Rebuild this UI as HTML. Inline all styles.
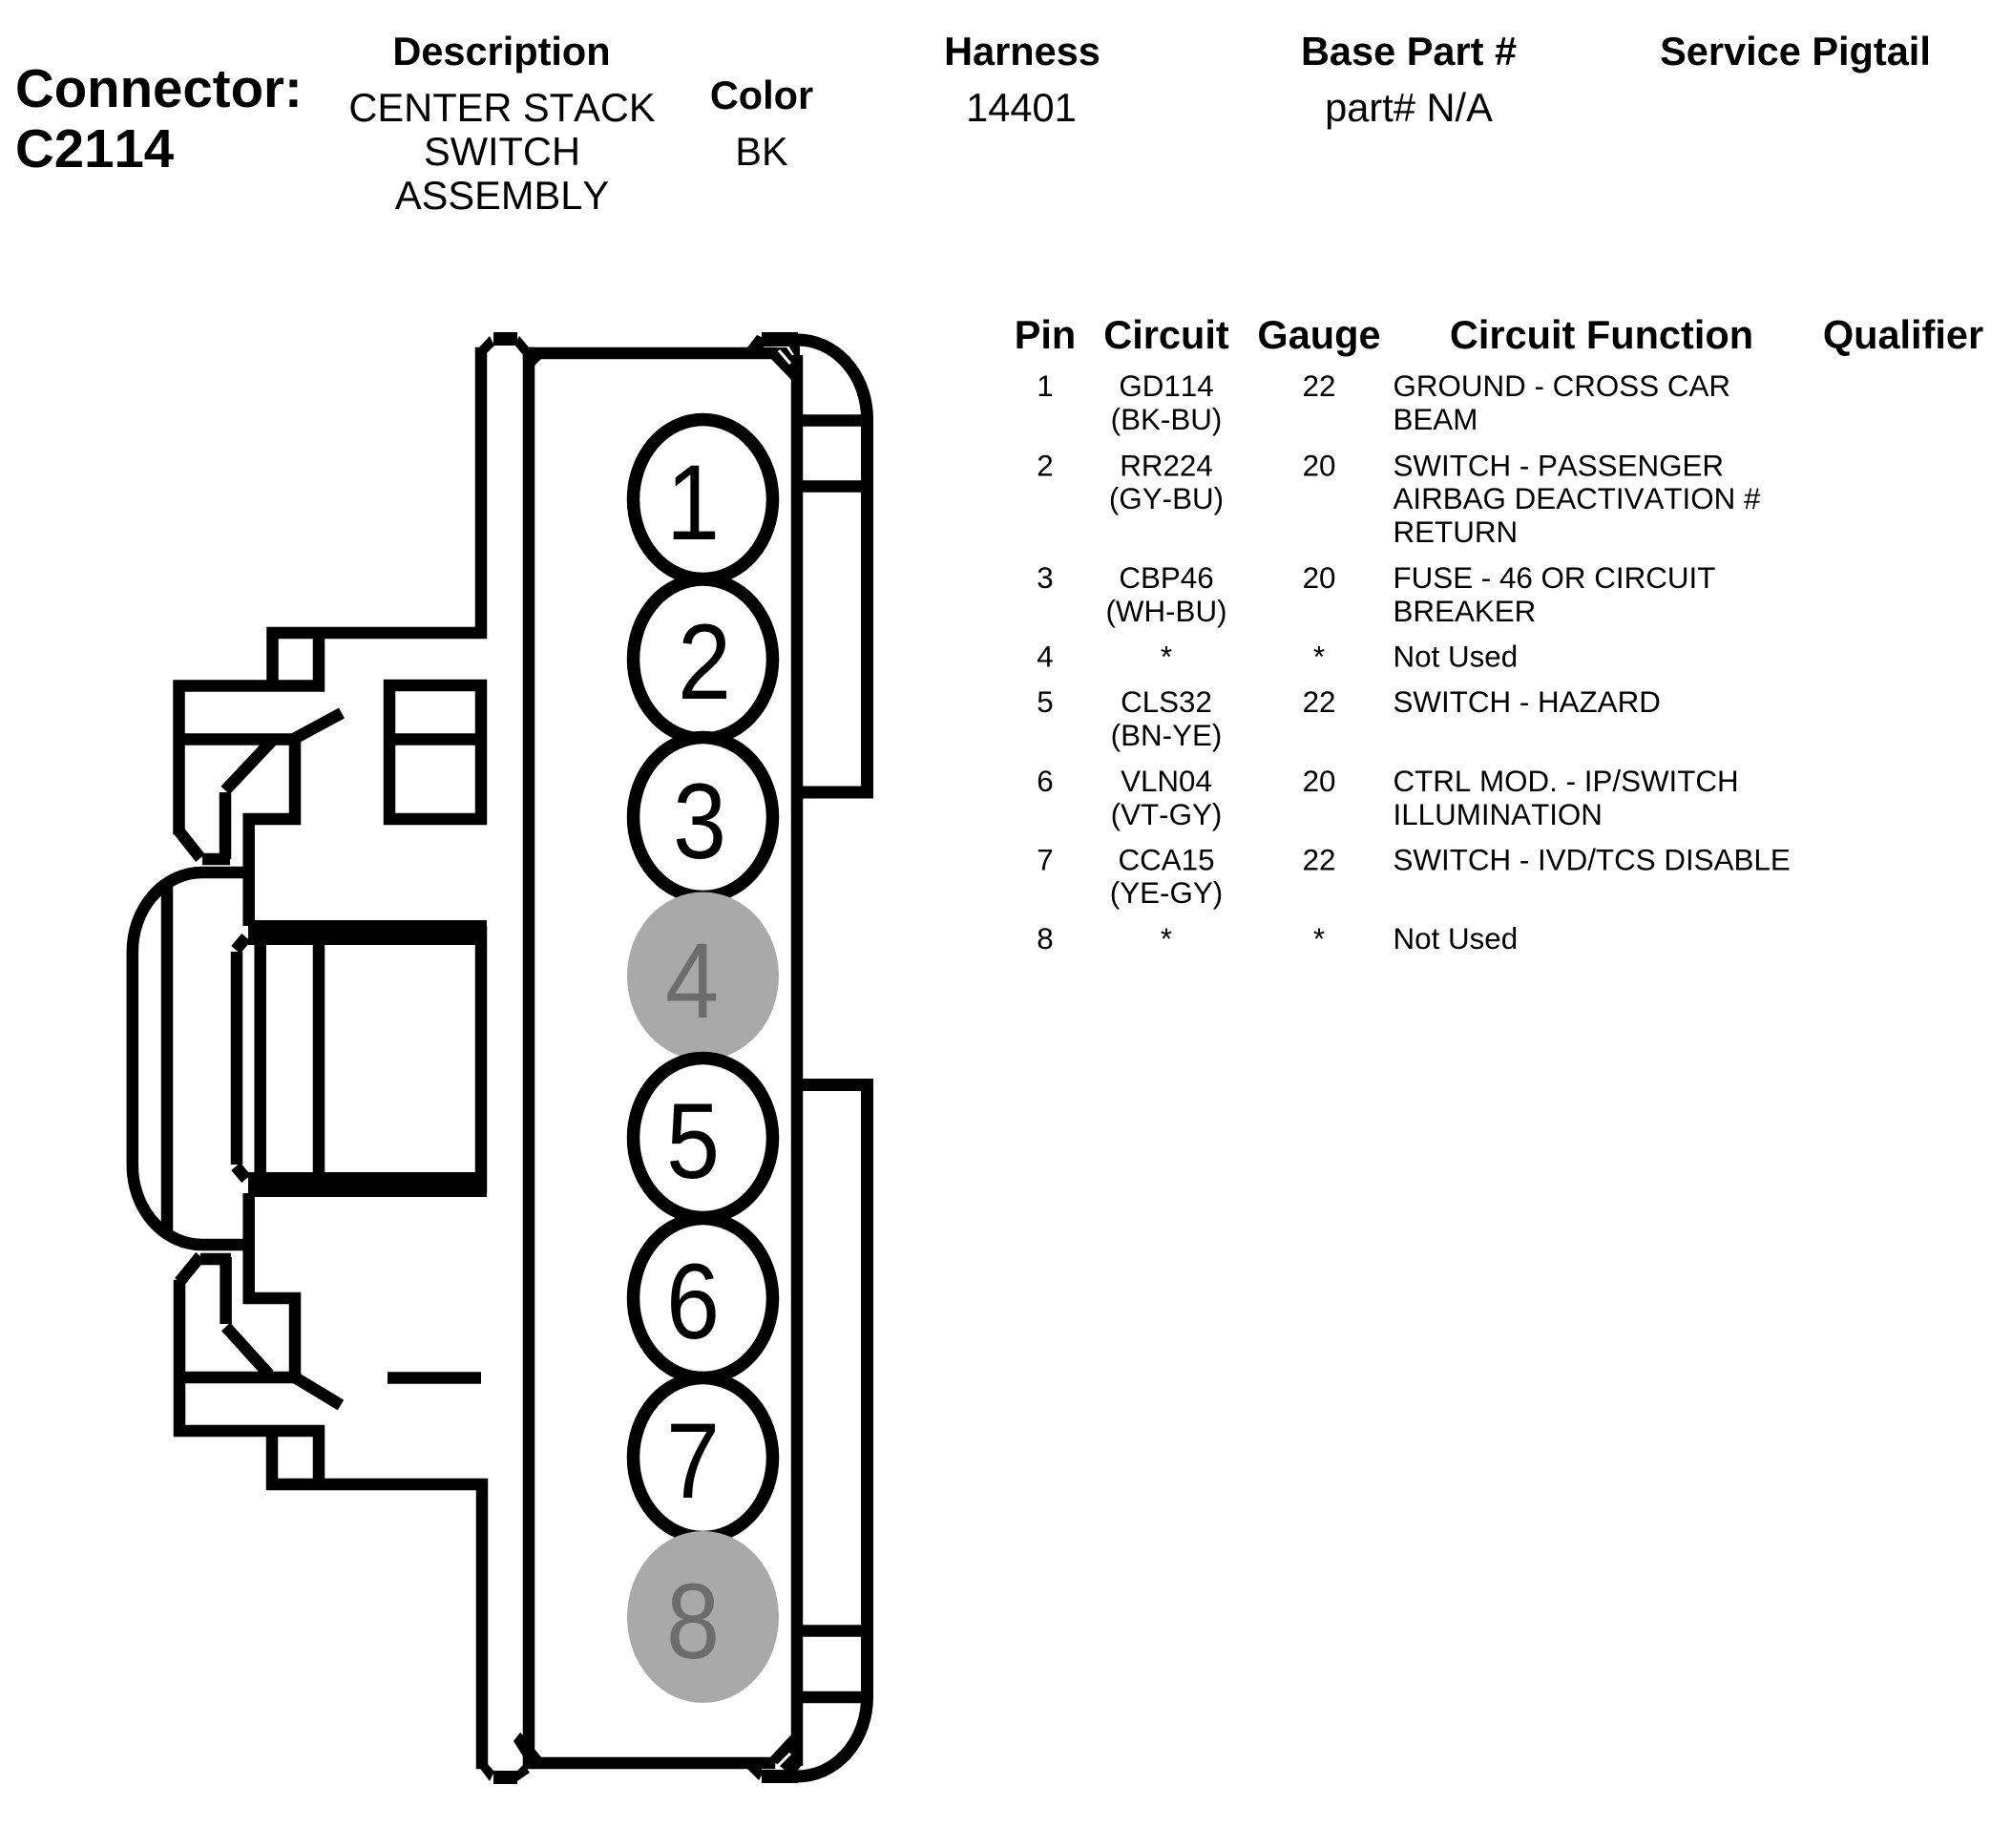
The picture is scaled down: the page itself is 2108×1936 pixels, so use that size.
<!DOCTYPE html>
<html><head><meta charset="utf-8"><style>
html,body{margin:0;padding:0;background:#fff}
svg{display:block}
text{font-family:"Liberation Sans",sans-serif;fill:#000;font-kerning:none}
.b{font-weight:bold;font-size:41.5px;text-anchor:middle}
.r{font-size:41.6px;text-anchor:middle}
.t{font-size:31.35px}
.c{font-size:31.35px;text-anchor:middle}
.d{font-size:112px;text-anchor:middle}
.l{fill:none;stroke:#000;stroke-width:12.5;stroke-linejoin:miter;stroke-linecap:square}
.n{fill:none;stroke:#000;stroke-width:12.5;stroke-linecap:butt}
</style></head><body>
<svg xmlns="http://www.w3.org/2000/svg" width="2108" height="1936" viewBox="0 0 2108 1936">
<rect width="2108" height="1936" fill="#fff"/>
<text x="16" y="112" font-weight="bold" font-size="56.4">Connector:</text>
<text x="16" y="175" font-weight="bold" font-size="56.4">C2114</text>
<text class="b" x="525.5" y="68">Description</text>
<text class="r" x="526" y="127">CENTER STACK</text>
<text class="r" x="526" y="173">SWITCH</text>
<text class="r" x="526" y="219">ASSEMBLY</text>
<text class="b" x="798" y="114">Color</text>
<text class="r" x="798" y="173">BK</text>
<text class="b" x="1071" y="68">Harness</text>
<text class="r" x="1070" y="127">14401</text>
<text class="b" x="1476" y="68">Base Part #</text>
<text class="r" x="1476" y="127">part# N/A</text>
<text class="b" x="1881" y="68">Service Pigtail</text>

<text class="b" x="1095" y="365">Pin</text>
<text class="b" x="1222" y="365">Circuit</text>
<text class="b" x="1382" y="365">Gauge</text>
<text class="b" x="1678" y="365">Circuit Function</text>
<text class="b" x="1994" y="365">Qualifier</text>

<text class="c" x="1095" y="415">1</text><text class="c" x="1222" y="415">GD114</text><text class="c" x="1382" y="415">22</text><text class="t" x="1459.5" y="415">GROUND - CROSS CAR</text>
<text class="c" x="1222" y="450">(BK-BU)</text><text class="t" x="1459.5" y="450">BEAM</text>
<text class="c" x="1095" y="498.5">2</text><text class="c" x="1222" y="498.5">RR224</text><text class="c" x="1382" y="498.5">20</text><text class="t" x="1459.5" y="498.5">SWITCH - PASSENGER</text>
<text class="c" x="1222" y="533">(GY-BU)</text><text class="t" x="1459.5" y="533">AIRBAG DEACTIVATION #</text>
<text class="t" x="1459.5" y="568">RETURN</text>
<text class="c" x="1095" y="616">3</text><text class="c" x="1222" y="616">CBP46</text><text class="c" x="1382" y="616">20</text><text class="t" x="1459.5" y="616">FUSE - 46 OR CIRCUIT</text>
<text class="c" x="1222" y="651">(WH-BU)</text><text class="t" x="1459.5" y="651">BREAKER</text>
<text class="c" x="1095" y="698.5">4</text><text class="c" x="1222" y="698.5">*</text><text class="c" x="1382" y="698.5">*</text><text class="t" x="1459.5" y="698.5">Not Used</text>
<text class="c" x="1095" y="746">5</text><text class="c" x="1222" y="746">CLS32</text><text class="c" x="1382" y="746">22</text><text class="t" x="1459.5" y="746">SWITCH - HAZARD</text>
<text class="c" x="1222" y="781">(BN-YE)</text>
<text class="c" x="1095" y="829">6</text><text class="c" x="1222" y="829">VLN04</text><text class="c" x="1382" y="829">20</text><text class="t" x="1459.5" y="829">CTRL MOD. - IP/SWITCH</text>
<text class="c" x="1222" y="864">(VT-GY)</text><text class="t" x="1459.5" y="864">ILLUMINATION</text>
<text class="c" x="1095" y="911.5">7</text><text class="c" x="1222" y="911.5">CCA15</text><text class="c" x="1382" y="911.5">22</text><text class="t" x="1459.5" y="911.5">SWITCH - IVD/TCS DISABLE</text>
<text class="c" x="1222" y="946">(YE-GY)</text>
<text class="c" x="1095" y="994">8</text><text class="c" x="1222" y="994">*</text><text class="c" x="1382" y="994">*</text><text class="t" x="1459.5" y="994">Not Used</text>

<!-- main body -->
<path class="l" d="M554 370H808"/>
<path class="l" d="M554 370V1847H806"/>
<path class="n" d="M835 372V1850"/>
<path class="n" d="M835 356A73 83 0 0 1 908.500 440V830H835" style="stroke-width:13"/>
<path class="n" d="M835 440.500H908M835 509.500H908"/>
<path class="n" d="M835 1136.500H908.500V1778A73 83 0 0 1 835 1861" style="stroke-width:13"/>
<path class="n" d="M835 1708.500H908M835 1778H908"/>
<!-- top corners -->
<g fill="#000">
<path d="M517 348H542V362H517Z"/>
<path d="M501 365L513 352L518 362L509 371Z"/>
<path d="M544 352L555 365L548 372L539 361Z"/>
<path d="M560 376V383L567 376Z"/>
<path d="M798 348H836V363H798Z"/>
<path d="M783 364L793 351L800 354V364Z"/>
<path d="M808 376L814 364L824 364L838 384V402L829 398Z"/>
<path d="M826 362H838V372H832Z"/>
</g>
<path d="M816 367L828 381" stroke="#fff" stroke-width="3" fill="none"/>
<!-- bottom corners -->
<g fill="#000">
<path d="M517 1855H542V1869H517Z"/>
<path d="M501 1850L510 1847L518 1856L513 1866Z"/>
<path d="M542 1855L549 1848L555 1857L542 1866Z"/>
<path d="M545 1815L550 1820V1840H548L538 1824Z"/>
<path d="M558 1830V1845L569 1843Z"/>
<path d="M798 1854H836V1868H798Z"/>
<path d="M783 1853L795 1865L798 1860V1853Z"/>
<path d="M806 1842L830 1816L841 1816V1847L835 1856L822 1854Z"/>
</g>
<path d="M813 1852L828 1837" stroke="#fff" stroke-width="3" fill="none"/>
<!-- upper clip -->
<path class="l" d="M504 370V663H285.500V718M334 663V718.500M187.500 718.500H334M187.500 718.500V868M187.500 774.500H309V858H260.700"/>
<path class="n" d="M187 870L210 899M212 900H241M236 900V830M236 828L285 776M308 774L358 747"/>
<!-- upper rect -->
<rect class="l" x="408" y="718" width="96" height="140" style="stroke-linecap:butt"/>
<path class="n" d="M408 774.500H504"/>
<!-- center -->
<path class="n" d="M260.700 858V970M260.700 1250V1361M260.700 914H212A73 83 0 0 0 138.800 997V1221A73 83 0 0 0 212 1304H260.700"/>
<path class="n" d="M175 925V1292"/>
<path d="M260 964H510V990H260ZM260 1228H510V1254H260Z" fill="#000"/>
<path class="n" d="M504 970V1250M272.700 983V1234M334 983V1234"/>
<path class="n" d="M248 997V1220M247 995L258 982M247 1222L258 1235"/>
<!-- lower clip -->
<path class="l" d="M260.700 1360H309V1443H188M188 1347V1499H334V1555M285 1499V1555H505V1847"/>
<path class="n" d="M236.600 1317V1387M236.600 1390L282 1440M188 1343L210 1316M210 1319H242M309 1443L357 1472M406 1443.500H504"/>

<!-- pins -->
<g>
<ellipse cx="736.500" cy="523" rx="73" ry="83.500" fill="#fff" stroke="#000" stroke-width="13.500"/>
<ellipse cx="736.500" cy="690.500" rx="73" ry="83.500" fill="#fff" stroke="#000" stroke-width="13.500"/>
<ellipse cx="736.500" cy="856" rx="73" ry="83.500" fill="#fff" stroke="#000" stroke-width="13.500"/>
<ellipse cx="736.500" cy="1022.500" rx="79.500" ry="88" fill="#a9a9a9"/>
<ellipse cx="736.500" cy="1192" rx="73" ry="83.500" fill="#fff" stroke="#000" stroke-width="13.500"/>
<ellipse cx="736.500" cy="1360" rx="73" ry="83.500" fill="#fff" stroke="#000" stroke-width="13.500"/>
<ellipse cx="736.500" cy="1527" rx="73" ry="83.500" fill="#fff" stroke="#000" stroke-width="13.500"/>
<ellipse cx="736.500" cy="1694" rx="79.500" ry="90" fill="#a9a9a9"/>
</g>
<text class="d" transform="translate(726,565) scale(.9,1)">1</text>
<text class="d" transform="translate(738,732) scale(.9,1)">2</text>
<text class="d" transform="translate(733,899) scale(.9,1)">3</text>
<text class="d" transform="translate(725,1066) scale(.9,1)" style="fill:#6c6c6c">4</text>
<text class="d" transform="translate(726,1234) scale(.9,1)">5</text>
<text class="d" transform="translate(726,1402) scale(.9,1)">6</text>
<text class="d" transform="translate(726,1569) scale(.9,1)">7</text>
<text class="d" transform="translate(726,1737) scale(.9,1)" style="fill:#6c6c6c">8</text>
</svg>
</body></html>
